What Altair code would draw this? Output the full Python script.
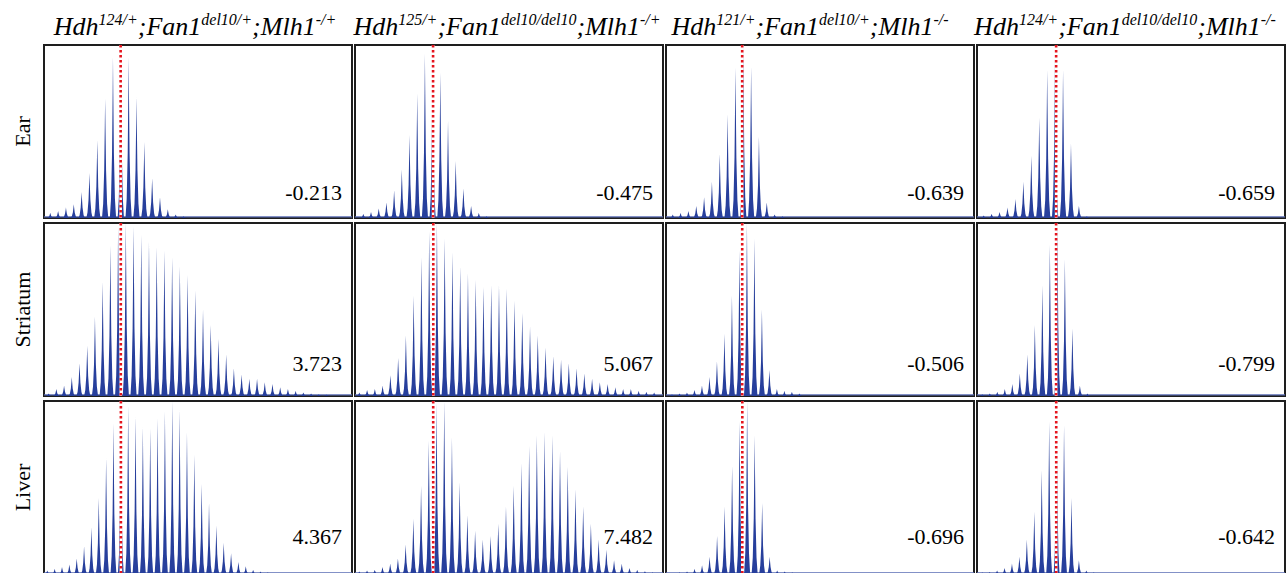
import altair as alt
import pandas as pd

# ---------------- data ----------------
ROW_NAMES = ["Ear", "Striatum", "Liver"]

HEADER_1 = [("Hdh", 0), ("124/+", 1), (";Fan1", 0), ("del10/+", 1), (";Mlh1", 0), ("-/+", 1)]
HEADER_2 = [("Hdh", 0), ("125/+", 1), (";Fan1", 0), ("del10/del10", 1), (";Mlh1", 0), ("-/+", 1)]
HEADER_3 = [("Hdh", 0), ("121/+", 1), (";Fan1", 0), ("del10/+", 1), (";Mlh1", 0), ("-/-", 1)]
HEADER_4 = [("Hdh", 0), ("124/+", 1), (";Fan1", 0), ("del10/del10", 1), (";Mlh1", 0), ("-/-", 1)]
HEADERS = [HEADER_1, HEADER_2, HEADER_3, HEADER_4]

VALUES_EAR = ["-0.213", "-0.475", "-0.639", "-0.659"]
VALUES_STRIATUM = ["3.723", "5.067", "-0.506", "-0.799"]
VALUES_LIVER = ["4.367", "7.482", "-0.696", "-0.642"]
VALUES = [VALUES_EAR, VALUES_STRIATUM, VALUES_LIVER]

# relative peak heights (one per repeat length)
EAR_1 = [0.03, 0.04, 0.06, 0.08, 0.15, 0.26, 0.45, 0.69, 0.93, 1.0, 0.93, 0.70, 0.44, 0.23, 0.12, 0.05, 0.02, 0.01]
EAR_2 = [0.025, 0.035, 0.055, 0.09, 0.16, 0.28, 0.48, 0.72, 0.95, 1.0, 0.84, 0.56, 0.33, 0.17, 0.07, 0.03, 0.01]
EAR_3 = [0.02, 0.03, 0.04, 0.07, 0.12, 0.21, 0.37, 0.60, 0.87, 1.0, 0.875, 0.47, 0.09, 0.02, 0.01]
EAR_4 = [0.015, 0.025, 0.035, 0.06, 0.11, 0.21, 0.36, 0.58, 0.855, 1.0, 0.855, 0.43, 0.07, 0.01]

STR_1 = [0.015, 0.04, 0.06, 0.11, 0.19, 0.29, 0.46, 0.66, 0.87, 0.98, 1.0, 0.98, 0.93, 0.89, 0.86,
         0.84, 0.80, 0.75, 0.70, 0.61, 0.50, 0.41, 0.33, 0.24, 0.16, 0.125, 0.10, 0.10, 0.08, 0.07,
         0.05, 0.04, 0.03, 0.02, 0.015, 0.01, 0.008]
STR_2 = [0.02, 0.035, 0.04, 0.06, 0.12, 0.22, 0.35, 0.58, 0.80, 0.95, 1.0, 0.91, 0.83, 0.75, 0.71,
         0.67, 0.63, 0.64, 0.64, 0.62, 0.55, 0.48, 0.40, 0.35, 0.28, 0.23, 0.21, 0.19, 0.16, 0.13,
         0.10, 0.08, 0.07, 0.05, 0.04, 0.04, 0.03, 0.025, 0.02]
STR_3 = [0.01, 0.015, 0.02, 0.035, 0.06, 0.11, 0.20, 0.36, 0.58, 0.84, 1.0, 0.91, 0.50, 0.15, 0.04, 0.03, 0.025, 0.015]
STR_4 = [0.01, 0.015, 0.025, 0.04, 0.07, 0.13, 0.24, 0.41, 0.64, 0.875, 1.0, 0.79, 0.39, 0.06, 0.015]

LIV_1 = [0.02, 0.03, 0.04, 0.055, 0.09, 0.16, 0.27, 0.44, 0.67, 0.87, 0.93, 0.97, 0.91, 0.85, 0.84,
         0.90, 0.94, 1.0, 0.95, 0.82, 0.69, 0.52, 0.41, 0.28, 0.18, 0.12, 0.07, 0.045, 0.025, 0.015, 0.01]
LIV_2 = [0.015, 0.02, 0.025, 0.04, 0.06, 0.09, 0.17, 0.32, 0.51, 0.77, 0.99, 1.0, 0.79, 0.53, 0.34,
         0.25, 0.20, 0.22, 0.29, 0.39, 0.51, 0.64, 0.74, 0.80, 0.82, 0.80, 0.71, 0.62, 0.49, 0.39,
         0.29, 0.20, 0.14, 0.08, 0.06, 0.035, 0.024, 0.016, 0.01, 0.006]
LIV_3 = [0.005, 0.01, 0.015, 0.03, 0.05, 0.10, 0.22, 0.39, 0.625, 0.88, 1.0, 0.80, 0.41, 0.10, 0.02, 0.015, 0.01]
LIV_4 = [0.01, 0.012, 0.02, 0.035, 0.06, 0.10, 0.20, 0.36, 0.60, 0.88, 1.0, 0.86, 0.44, 0.08, 0.02, 0.01]

PEAKS = [[EAR_1, EAR_2, EAR_3, EAR_4], [STR_1, STR_2, STR_3, STR_4], [LIV_1, LIV_2, LIV_3, LIV_4]]

# repeats spanned by one panel's width (run-specific mobility)
X_SPAN = [[39.3, 40.0, 39.3, 38.8], [39.9, 39.7, 41.1, 41.0], [41.9, 39.9, 41.0, 41.4]]
# repeat position (from the panel's left edge) of the first peak
FIRST_PEAK = [[0.80, 1.08, 0.86, 0.84], [0.60, 0.56, 0.80, 0.70], [0.45, 0.56, 0.80, 0.70]]
# modal-repeat reference line (same repeat scale)
MODE_LINE = [[9.78, 10.14, 9.72, 9.97], [9.95, 10.09, 10.17, 10.53], [10.46, 10.13, 10.16, 10.65]]

# ---------------- styling ----------------
W, H = 308, 173
LABEL_W = 40
HEAD_H = 39
BLUE = "#273f9c"
RED = "#e5141d"
SERIF = "Liberation Serif"
MAIN_FS, SUP_FS, SUP_RAISE = 26, 16, 10
HEAD_BASE = 34
TEXT_BASE = [155, 148, 143]
HEAD_CENTER = [151, 152, 144, 148]

PEAK_OFF = [-0.40, -0.25, -0.12, -0.04, 0.0, 0.04, 0.12, 0.25, 0.40]
PEAK_FRAC = [0.0, 0.12, 0.40, 0.78, 1.0, 0.78, 0.40, 0.12, 0.0]

AFM = {'H': 722, 'd': 500, 'h': 500, '1': 500, '2': 500, '4': 500, '5': 500, '0': 500,
       '/': 278, '+': 675, ';': 333, 'F': 611, 'a': 500, 'n': 500, 'e': 444, 'l': 278,
       'M': 833, '-': 333}


def text_width(s, fs):
    return sum(AFM.get(c, 500) for c in s) * fs / 1000.0


def panel(r, c):
    heights = PEAKS[r][c]
    start = FIRST_PEAK[r][c]
    recs = []
    for i, h in enumerate(heights):
        centre = start + i
        for off, fr in zip(PEAK_OFF, PEAK_FRAC):
            recs.append({"px": centre + off, "py": h * fr})
    df = pd.DataFrame(recs)
    xs = alt.Scale(domain=[0, X_SPAN[r][c]], nice=False, zero=False)
    ys = alt.Scale(domain=[0, 1.0], nice=False, zero=True)

    base = alt.Chart(pd.DataFrame({"b": [0.006]})).mark_rule(
        color="#5a6cb4", strokeWidth=1.2
    ).encode(y=alt.Y("b:Q", scale=ys, axis=None), x=alt.value(0), x2=alt.value(W))

    area = alt.Chart(df).mark_area(color=BLUE, interpolate="linear").encode(
        x=alt.X("px:Q", scale=xs, axis=None),
        y=alt.Y("py:Q", scale=ys, axis=None, stack=None),
    )
    red_df = pd.DataFrame({"m": [MODE_LINE[r][c]]})
    white = alt.Chart(red_df).mark_rule(color="white", strokeWidth=2.6).encode(
        x=alt.X("m:Q", scale=xs, axis=None))
    redl = alt.Chart(red_df).mark_rule(color=RED, strokeWidth=2.6, strokeDash=[2.6, 2.4]).encode(
        x=alt.X("m:Q", scale=xs, axis=None))
    txt = alt.Chart(pd.DataFrame({"t": [VALUES[r][c]]})).mark_text(
        align="right", baseline="alphabetic", font=SERIF, fontSize=22, color="black"
    ).encode(text="t:N", x=alt.value(W - 10), y=alt.value(TEXT_BASE[r]))
    return alt.layer(base, area, white, redl, txt).properties(width=W, height=H)


def header(c):
    recs = []
    total = sum(text_width(s, SUP_FS if sup else MAIN_FS) for s, sup in HEADERS[c])
    x = HEAD_CENTER[c] - total / 2
    for s, sup in HEADERS[c]:
        fs = SUP_FS if sup else MAIN_FS
        recs.append({"t": s, "hx": x, "hy": HEAD_BASE - (SUP_RAISE if sup else 0), "sup": sup})
        x += text_width(s, fs)
    df = pd.DataFrame(recs)
    main = alt.Chart(df).transform_filter("datum.sup == 0").mark_text(
        align="left", baseline="alphabetic", font=SERIF, fontStyle="italic",
        fontSize=MAIN_FS, color="black"
    ).encode(text="t:N", x=alt.X("hx:Q", scale=None), y=alt.Y("hy:Q", scale=None))
    sup = alt.Chart(df).transform_filter("datum.sup == 1").mark_text(
        align="left", baseline="alphabetic", font=SERIF, fontStyle="italic",
        fontSize=SUP_FS, color="black"
    ).encode(text="t:N", x=alt.X("hx:Q", scale=None), y=alt.Y("hy:Q", scale=None))
    return alt.layer(main, sup).properties(
        width=W, height=HEAD_H, view=alt.ViewConfig(stroke="transparent"))


def blank(h):
    return alt.Chart(pd.DataFrame({"t": [""]})).mark_text().encode(text="t:N").properties(
        width=LABEL_W, height=h, view=alt.ViewConfig(stroke="transparent"))


def row_label(r):
    return alt.Chart(pd.DataFrame({"t": [ROW_NAMES[r]]})).mark_text(
        angle=270, font=SERIF, fontSize=22, color="black", align="center", baseline="middle"
    ).encode(text="t:N", x=alt.value(22), y=alt.value(H / 2)).properties(
        width=LABEL_W, height=H, view=alt.ViewConfig(stroke="transparent"))


cells = [blank(HEAD_H)] + [header(c) for c in range(4)]
for r in range(3):
    cells.append(row_label(r))
    cells.extend(panel(r, c) for c in range(4))

chart = alt.concat(*cells, columns=5, spacing={"row": 5, "column": 3}, bounds="flush").properties(
    padding={"left": 0, "top": 0, "right": 0, "bottom": 0}, background="white"
).configure_view(stroke="#1e1e1e", strokeWidth=2)

chart.save("out.html", embed_options={"renderer": "svg", "actions": False})
